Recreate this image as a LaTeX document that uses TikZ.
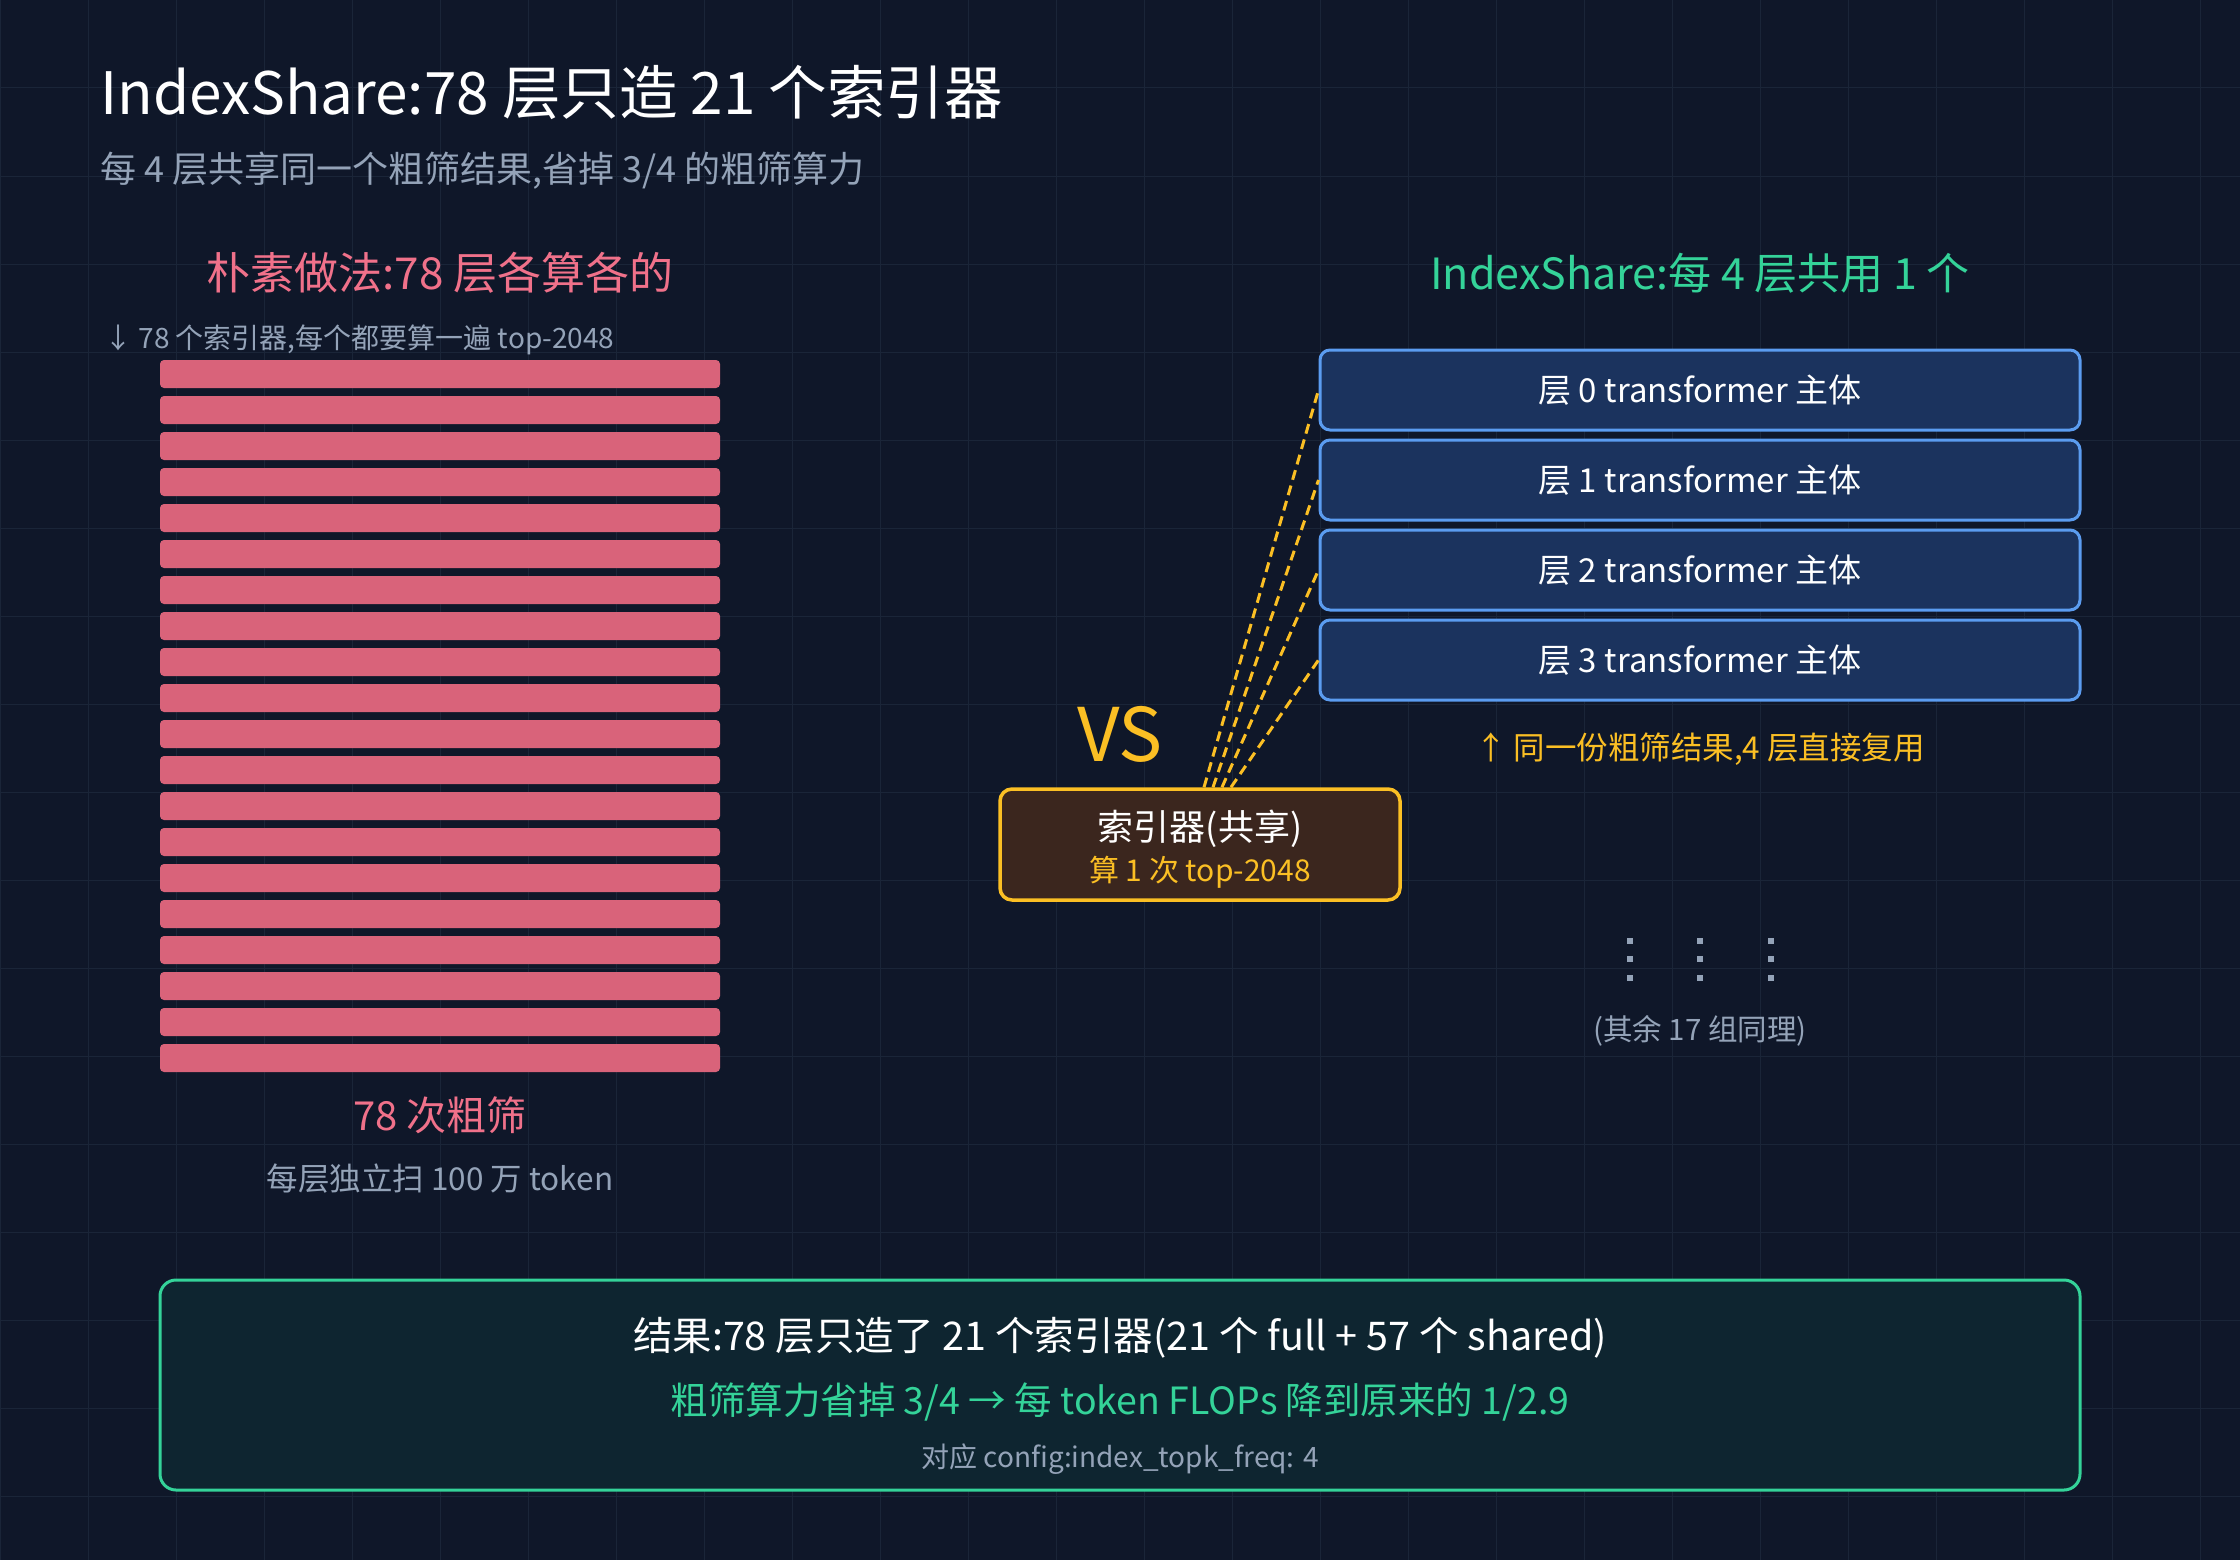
\documentclass[tikz,border=0pt]{standalone}
\usepackage{fontspec}
\setmainfont{Noto Sans CJK SC}
\usetikzlibrary{calc}
\definecolor{bgc}{HTML}{0F1729}
\definecolor{gridc}{HTML}{1A2538}
\definecolor{barc}{HTML}{D9637A}
\definecolor{pinkc}{HTML}{F0718A}
\definecolor{greenc}{HTML}{34D399}
\definecolor{yellowc}{HTML}{FBBF24}
\definecolor{grayc}{HTML}{94A3B8}
\definecolor{bluefill}{HTML}{1B335E}
\definecolor{blueline}{HTML}{5B9CF0}
\definecolor{idxfill}{HTML}{3B261E}
\definecolor{resfill}{HTML}{0E2530}
\newcommand{\fs}[1]{\fontsize{#1}{#1}\selectfont}
\begin{document}
\begin{tikzpicture}[x=1pt,y=-1pt,
  txt/.style={inner sep=0pt, anchor=base},
  layerbox/.style={draw=blueline, fill=bluefill, line width=3pt, rounded corners=10pt,
    minimum width=760pt, minimum height=80pt, inner sep=0pt, text=white, font=\fs{33}},
  idxbox/.style={draw=yellowc, fill=idxfill, line width=3.5pt, rounded corners=12pt,
    minimum width=400pt, minimum height=111pt, inner sep=0pt},
  resbox/.style={draw=greenc, fill=resfill, line width=3pt, rounded corners=16pt,
    minimum width=1920pt, minimum height=210pt, inner sep=0pt},
  dashline/.style={draw=yellowc, line width=3pt, dash pattern=on 10pt off 6pt},
  bar/.style={fill=barc, rounded corners=4pt}
]
\fill[bgc] (0,0) rectangle (2240,1560);
\useasboundingbox (0,0) rectangle (2240,1560);
\foreach \k in {0,...,25} {\draw[gridc, line width=1pt] ({88*\k},0) -- ({88*\k},1560);}
\foreach \k in {0,...,17} {\draw[gridc, line width=1pt] (0,{88*\k}) -- (2240,{88*\k});}

% titles
\node[txt, anchor=base west, text=white, font=\fs{58.5}] (title) at (100,115) {IndexShare:78 层只造 21 个索引器};
\node[txt, anchor=base west, text=grayc, font=\fs{36}] (sub) at (100,182) {每 4 层共享同一个粗筛结果,省掉 3/4 的粗筛算力};

% left side
\node[txt, text=pinkc, font=\fs{44}] (lhead) at (440,289) {朴素做法:78 层各算各的};
\node[txt, anchor=base west, text=grayc, font=\fs{28}] (lnote) at (104,348) {↓ 78 个索引器,每个都要算一遍 top-2048};
\foreach \i in {0,...,19} {\path[bar] (160,{360+36*\i}) rectangle (720,{388+36*\i});}
\node[txt, text=pinkc, font=\fs{40}] (lcount) at (440,1130) {78 次粗筛};
\node[txt, text=grayc, font=\fs{31.5}] (lscan) at (440,1190) {每层独立扫 100 万 token};

% right side
\node[txt, text=greenc, font=\fs{43}] (rhead) at (1700,289) {IndexShare:每 4 层共用 1 个};
\node[layerbox] (L0) at (1700,390) {层 0 transformer 主体};
\node[layerbox] (L1) at (1700,480) {层 1 transformer 主体};
\node[layerbox] (L2) at (1700,570) {层 2 transformer 主体};
\node[layerbox] (L3) at (1700,660) {层 3 transformer 主体};
\node[txt, text=yellowc, font=\fs{31.5}] (reuse) at (1700,759) {↑ 同一份粗筛结果,4 层直接复用};

\node[txt, text=yellowc, font=\fs{74}] (vs) at (1120,761) {VS};

\node[idxbox] (idx) at (1200,844.5) {};
\node[txt, text=white, font=\fs{36}] (idxa) at (1200,840) {索引器(共享)};
\node[txt, text=yellowc, font=\fs{30}] (idxb) at (1200,881) {算 1 次 top-2048};

\foreach \i/\dx in {0/4,1/13,2/22,3/31} {
  \draw[dashline] ([xshift=\dx pt]idx.north) -- (L\i.west);
}

\foreach \cx in {1630,1700,1771} {
  \foreach \cy in {941,959,978} {
    \fill[grayc] ({\cx-3},{\cy-3}) rectangle ({\cx+3},{\cy+3});
  }
}
\node[txt, text=grayc, font=\fs{29.5}] (rest) at (1700,1040) {(其余 17 组同理)};

% result
\node[resbox] (res) at (1120,1385) {};
\node[txt, text=white, font=\fs{39.5}] (r1) at (1120,1350) {结果:78 层只造了 21 个索引器(21 个 full + 57 个 shared)};
\node[txt, text=greenc, font=\fs{37.5}] (r2) at (1120,1414) {粗筛算力省掉 3/4 → 每 token FLOPs 降到原来的 1/2.9};
\node[txt, text=grayc, font=\fs{28}] (r3) at (1120,1467) {对应 config:index\_topk\_freq: 4};
\end{tikzpicture}
\end{document}
